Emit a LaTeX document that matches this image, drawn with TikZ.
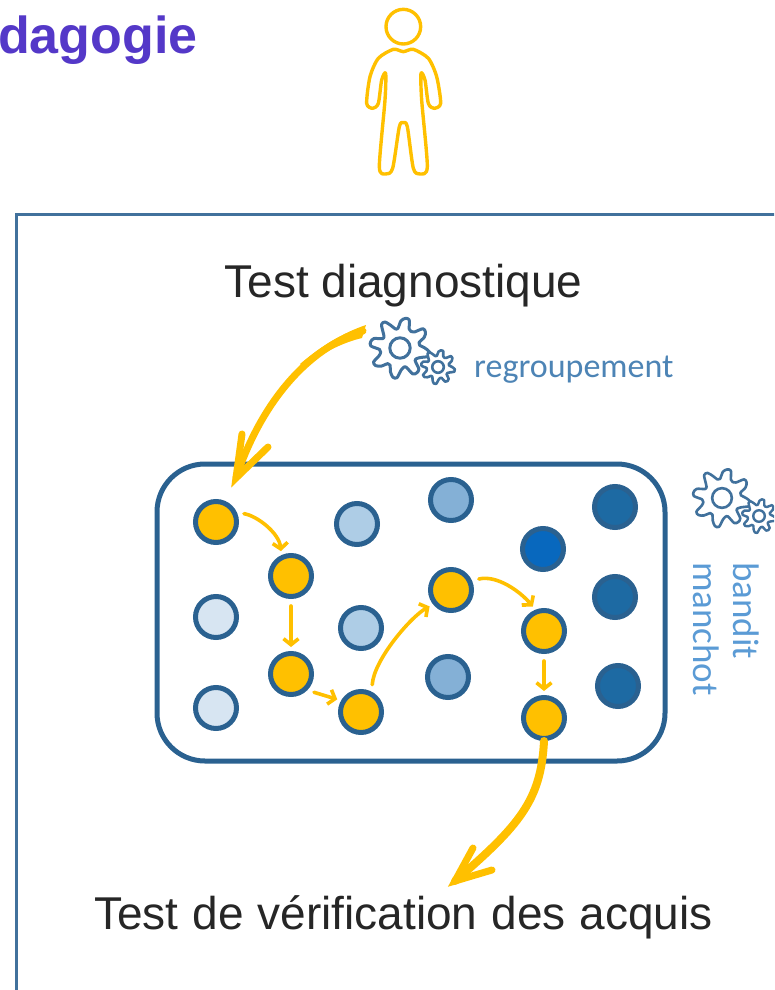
\documentclass[tikz,border=0pt]{standalone}
\usepackage{fontspec}
\setmainfont{Liberation Sans}
\newfontfamily\cali{Carlito}
\usetikzlibrary{arrows.meta}
\definecolor{ylw}{HTML}{FFC000}
\definecolor{edge}{HTML}{2A6190}
\definecolor{frameblue}{HTML}{41719C}
\definecolor{gearblue}{HTML}{41719C}
\definecolor{lbl}{HTML}{5B9BD5}
\definecolor{ttl}{HTML}{5438C8}
\definecolor{dotfillA}{HTML}{D7E5F2}
\definecolor{dotfillB}{HTML}{AECDE6}
\definecolor{dotfillC}{HTML}{84B0D6}
\definecolor{dotfillD}{HTML}{1D6AA3}
\definecolor{dotfillE}{HTML}{0868BE}
\newcommand{\gearicon}[4]{%
  \draw[gearblue,line width=#4,fill=white,line join=round]
    plot[smooth cycle,domain=0:352,samples=45,variable=\t]
    ({#1+(#3)*(0.83+0.17*max(min(1.6*sin(8*\t),1),-1))*cos(\t)},
     {#2+(#3)*(0.83+0.17*max(min(1.6*sin(8*\t),1),-1))*sin(\t)});
  \draw[gearblue,line width=#4] (#1,#2) circle[radius=0.34*#3];
}
\tikzset{
  x=1pt,y=-1pt,
  dot/.style={circle,draw=edge,line width=5pt,minimum size=41pt,inner sep=0pt},
  dotY/.style={dot,fill=ylw},
  dotA/.style={dot,fill=dotfillA},
  dotB/.style={dot,fill=dotfillB},
  dotC/.style={dot,fill=dotfillC},
  dotD/.style={dot,fill=dotfillD},
  dotE/.style={dot,fill=dotfillE},
  hop/.style={draw=ylw,line width=3.6pt,line cap=round,shorten <=7pt,shorten >=4pt,-{Straight Barb[length=6pt,width=15pt,line width=3.6pt]}},
  bigline/.style={draw=ylw,line width=7pt,line cap=round},
  bighead/.style={draw=ylw,line width=7pt,line cap=round,line join=miter},
  bigtext/.style={font=\fontsize{46}{50}\selectfont,text=black!85,inner sep=0pt},
}
\begin{document}
\begin{tikzpicture}
\useasboundingbox (0,0) rectangle (774,990);
\clip (0,0) rectangle (774,990);
\node[anchor=base west,inner sep=0pt,text=ttl,font=\fontsize{52}{54}\selectfont\bfseries] (title) at (-2,53) {dagogie};
% person
\begin{scope}[shift={(340,0)},x=0.3333pt,y=-0.3333pt]
\draw[ylw,line width=3.4pt] (190,80) circle[radius=52];
\draw[ylw,line width=3.4pt,line join=round] plot[smooth cycle,tension=0.45] coordinates {
 (190,155) (160,148) (115,175) (90,230) (80,310) (98,325) (115,310) (125,240) (137,220) (135,300) (118,500) (137,522) (158,505) (178,380) (190,368) (202,380) (220,505) (240,522) (262,500) (245,300) (243,220) (255,240) (265,310) (282,325) (302,310) (290,230) (265,175) (220,148)};
\end{scope}
% frame
\draw[frameblue,line width=3pt] (16,995) -- (16,214) -- (780,214);
\node[bigtext] (diag) at (403.5,286) {Test diagnostique};
\node[bigtext] (verif) at (403.5,917) {\spaceskip=14pt Test de vérification des acquis};
\gearicon{400}{348}{30}{3pt}
\gearicon{438}{367}{17}{2.6pt}
\node[anchor=base west,inner sep=0pt,text=lbl!85!black,font=\cali\fontsize{34}{36}\selectfont] (reg) at (474,377) {regroupement};
\draw[edge,line width=5pt,rounded corners=48pt] (157,464) rectangle (665,761);
\gearicon{722}{498}{29}{2.6pt}
\gearicon{759}{516}{17}{2.4pt}
\node[rotate=-90,anchor=base west,inner sep=0pt,text=lbl,font=\cali\fontsize{37}{39}\selectfont] (band) at (733,562) {bandit};
\node[rotate=-90,anchor=base west,inner sep=0pt,text=lbl,font=\cali\fontsize{37}{39}\selectfont] (manc) at (693,562) {manchot};
% dots
\node[dotY] (y1) at (216,522) {};
\node[dotY] (y2) at (291,576) {};
\node[dotY] (y3) at (291,674) {};
\node[dotY] (y4) at (361,712) {};
\node[dotY] (y5) at (451,590) {};
\node[dotY] (y6) at (544,631) {};
\node[dotY] (y7) at (544,718) {};
\node[dotA] (a1) at (216,617) {};
\node[dotA] (a2) at (216,708) {};
\node[dotB] (b1) at (357,524) {};
\node[dotB] (b2) at (361,628) {};
\node[dotC] (c1) at (451,500) {};
\node[dotC] (c2) at (448,677) {};
\node[dotD] (d1) at (615,507) {};
\node[dotD] (d2) at (615,597) {};
\node[dotD] (d3) at (618,686) {};
\node[dotE] (e1) at (543,549) {};
% hops
\draw[hop] (y1.24) .. controls +(20,3) and +(-2,-22) .. (y2.115);
\draw[hop] (y2) -- (y3);
\draw[hop] (y3.-45) -- (y4.150);
\draw[hop] (y4.62) .. controls +(2,-32) and +(-22,12) .. (y5.219);
\draw[hop] (y5.24) .. controls +(25,-6) and +(-15,-18) .. (y6.112);
\draw[hop] (y6) -- (y7);
% big arrows
\coordinate (s1) at (363,331);
\coordinate (t1) at (236,478);
\coordinate (b1a) at (242,434);
\coordinate (b1b) at (268,447);
\draw[bigline] (s1) .. controls (310,347) and (262,400) .. (t1);
\fill[ylw] (366,325) .. controls (345,332) and (322,345) .. (300,364) -- (304,368) .. controls (322,352) and (345,342) .. (362,338) -- cycle;
\draw[bighead] (b1a) -- (t1) -- (b1b);
\coordinate (t2) at (455,881);
\coordinate (b2a) at (473,848);
\coordinate (b2b) at (492,870);
\draw[bigline,line width=8pt] (y7.south) .. controls (541,800) and (520,825) .. (t2);
\draw[bighead] (b2a) -- (t2) -- (b2b);
\end{tikzpicture}
\end{document}
